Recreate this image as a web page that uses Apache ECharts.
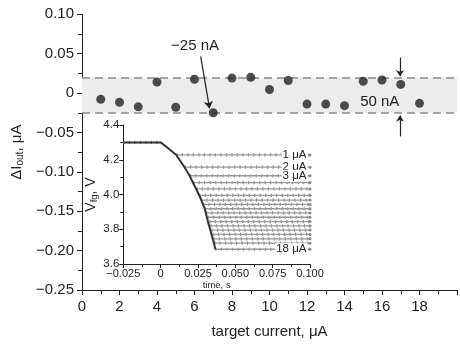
<!DOCTYPE html>
<html>
<head>
<meta charset="utf-8">
<script src="https://cdn.jsdelivr.net/npm/echarts@6/dist/echarts.min.js"></script>
<style>html,body{margin:0;padding:0;background:#fff}#c{width:460px;height:344px}</style>
</head>
<body>
<div id="c"></div>
<script>
// Main scatter: target current (µA) vs ΔI_out (µA)
var targetCurrent = [1,2,3,4,5,6,7,8,9,10,11,12,13,14,15,16,17,18];
var deltaIout = [-0.008,-0.0117,-0.0175,0.014,-0.018,0.0175,-0.025,0.019,0.02,0.0045,0.016,-0.014,-0.014,-0.016,0.015,0.0166,0.011,-0.013];
var bandUpper = 0.019;
var bandLower = -0.025;
var mainXTicks = [0,2,4,6,8,10,12,14,16,18];
var mainYTicks = ['0.10','0.05','0','−0.05','−0.10','−0.15','−0.20','−0.25'];

// Inset: V_fg vs time
var curveTime = [-0.025, 0, 0.0038, 0.0105, 0.016, 0.0194, 0.0217, 0.0239, 0.0261, 0.0295, 0.0317, 0.034, 0.0357, 0.0366];
var curveVfg  = [4.3, 4.3, 4.275, 4.227, 4.157, 4.108, 4.068, 4.03, 3.99, 3.918, 3.843, 3.771, 3.72, 3.685];
var levelVfg   = [4.228,4.157,4.108,4.068,4.032,3.995,3.968,3.943,3.918,3.894,3.869,3.844,3.819,3.795,3.77,3.745,3.72,3.685];
var levelStart = [0.0105,0.016,0.0194,0.0217,0.0239,0.0258,0.027,0.0282,0.0294,0.0304,0.0315,0.0325,0.0333,0.034,0.0347,0.0352,0.0357,0.0366];
var levelEnd = 0.1;
var levelLabels = ['1 μA','2 μA','3 μA','','','','','','','','','','','','','','','18 μA'];

var FONT = "'Liberation Sans', Arial, sans-serif";
function fmtMainY(v){ if (Math.abs(v) < 1e-9) return '0'; return (v<0?'−':'') + Math.abs(v).toFixed(2); }
function fmtInsetX(v){ if (Math.abs(v) < 1e-9) return '0'; return (v<0?'−':'') + Math.abs(v).toFixed(3); }

var scatterData = targetCurrent.map(function(x,i){ return [x, deltaIout[i]]; });
var curveData = curveTime.map(function(t,i){ return [t, curveVfg[i]]; });
var flatData = [[curveTime[0], curveVfg[0]], [curveTime[1], curveVfg[1]]];

function pattern(data){
  return {type:'line', xAxisIndex:1, yAxisIndex:1, silent:true, animation:false, symbol:'none',
    lineStyle:{color:'#888', width:3.2, type:[1.2,4.3]}, data:data, z:3};
}

var levelSeries = [];
levelVfg.forEach(function(v,i){
  var endItem = {value:[levelEnd, v], symbol:'circle', symbolSize:3};
  if (levelLabels[i]) {
    endItem.label = {show:true, position:'left', distance:1, formatter: levelLabels[i],
      backgroundColor:'#fff', padding:[0,1,0,1], color:'#222', fontSize:11.5, fontFamily:FONT};
  }
  var d = [[levelStart[i], v], [levelEnd, v]];
  levelSeries.push(pattern(d));
  levelSeries.push({
    type:'line', xAxisIndex:1, yAxisIndex:1, silent:true, animation:false,
    symbol:'none', showSymbol:true,
    itemStyle:{color:'#888'},
    lineStyle:{color:'#999', width:1.3},
    data:[[levelStart[i], v], endItem], z:4
  });
});

var chart = echarts.init(document.getElementById('c'), null, {renderer:'canvas'});
var option = {
  animation:false,
  textStyle:{fontFamily:FONT},
  grid:[
    {left:82, top:14.3, right:-26.4, bottom:49.7, containLabel:false},
    {left:123.3, top:125, right:150, bottom:80, containLabel:false}
  ],
  xAxis:[
    {type:'value', gridIndex:0, min:0, max:20, interval:2,
     axisLine:{show:true, onZero:false, lineStyle:{color:'#222', width:1}},
     axisTick:{show:true, length:5, lineStyle:{color:'#222'}},
     minorTick:{show:true, splitNumber:2, length:4, lineStyle:{color:'#222'}},
     splitLine:{show:false},
     axisLabel:{color:'#222', fontSize:15, margin:9, fontFamily:FONT,
       formatter:function(v){ return mainXTicks.indexOf(v) >= 0 ? String(v) : ''; }},
     name:'target current, μA', nameLocation:'middle', nameGap:34,
     nameTextStyle:{color:'#222', fontSize:15, fontFamily:FONT}
    },
    {type:'value', gridIndex:1, min:-0.025, max:0.1, interval:0.025,
     axisLine:{show:true, onZero:false, lineStyle:{color:'#222', width:1}},
     axisTick:{show:true, length:4, lineStyle:{color:'#222'}},
     minorTick:{show:true, splitNumber:2, length:3, lineStyle:{color:'#222'}},
     splitLine:{show:false},
     axisLabel:{color:'#222', fontSize:11, margin:4, fontFamily:FONT, formatter:fmtInsetX},
     name:'time, s', nameLocation:'middle', nameGap:15,
     nameTextStyle:{color:'#222', fontSize:9.5, fontFamily:FONT}
    }
  ],
  yAxis:[
    {type:'value', gridIndex:0, min:-0.25, max:0.1, interval:0.05,
     axisLine:{show:true, onZero:false, lineStyle:{color:'#222', width:1}},
     axisTick:{show:true, length:5, lineStyle:{color:'#222'}},
     minorTick:{show:true, splitNumber:2, length:4, lineStyle:{color:'#222'}},
     splitLine:{show:false},
     axisLabel:{color:'#222', fontSize:15, margin:8, fontFamily:FONT, formatter:fmtMainY},
     name:'{a|ΔI}{s|out}{a|, μA}', nameLocation:'middle', nameGap:50, nameRotate:90,
     nameTextStyle:{color:'#222', fontFamily:FONT,
       rich:{a:{fontSize:15, color:'#222', fontFamily:FONT}, s:{fontSize:10, color:'#222', fontFamily:FONT, padding:[7,0,0,0]}}}
    },
    {type:'value', gridIndex:1, min:3.6, max:4.4, interval:0.2,
     axisLine:{show:true, onZero:false, lineStyle:{color:'#222', width:1}},
     axisTick:{show:true, length:4, lineStyle:{color:'#222'}},
     minorTick:{show:true, splitNumber:2, length:3, lineStyle:{color:'#222'}},
     splitLine:{show:false},
     axisLabel:{color:'#222', fontSize:11.5, margin:4, fontFamily:FONT, formatter:function(v){return v.toFixed(1);}},
     name:'{a|V}{s|fg}{a|, V}', nameLocation:'middle', nameGap:24, nameRotate:90,
     nameTextStyle:{color:'#222', fontFamily:FONT,
       rich:{a:{fontSize:14, color:'#222', fontFamily:FONT}, s:{fontSize:9.5, color:'#222', fontFamily:FONT, padding:[7,0,0,0]}}}
    }
  ],
  series:[
    {type:'scatter', xAxisIndex:0, yAxisIndex:0, symbol:'circle', symbolSize:9,
     itemStyle:{color:'#222'}, data:scatterData, z:5, silent:true,
     markArea:{silent:true, precision:4, itemStyle:{color:'#ececec'}, data:[[{yAxis:bandLower},{yAxis:bandUpper}]]},
     markLine:{silent:true, precision:4, symbol:'none', label:{show:false},
       lineStyle:{color:'#888', width:1.5, type:[8,5]},
       data:[
         {yAxis:bandUpper},
         {yAxis:bandLower},
         [{coord:[6.33,0.0466], symbol:'none', lineStyle:{color:'#222', width:1.2, type:'solid'}},
          {coord:[6.8,-0.0195], symbol:'arrow', symbolSize:7}],
         [{coord:[16.96,0.045], symbol:'none', lineStyle:{color:'#222', width:1.2, type:'solid'}},
          {coord:[16.96,0.0215], symbol:'arrow', symbolSize:6}],
         [{coord:[16.96,-0.055], symbol:'none', lineStyle:{color:'#222', width:1.2, type:'solid'}},
          {coord:[16.96,-0.0285], symbol:'arrow', symbolSize:6}]
       ]},
     markPoint:{silent:true, symbol:'circle', symbolSize:0,
       label:{show:true, position:'inside', color:'#222', fontSize:15, fontFamily:FONT},
       data:[
         {coord:[6.03,0.0604], label:{formatter:'−25 nA'}},
         {coord:[15.88,-0.011], label:{formatter:'50 nA'}}
       ]}
    },
    pattern(flatData),
    {type:'line', xAxisIndex:1, yAxisIndex:1, silent:true, symbol:'none',
     lineStyle:{color:'#333', width:2}, data:curveData, z:6}
  ].concat(levelSeries)
};
chart.setOption(option);
</script>
</body>
</html>
